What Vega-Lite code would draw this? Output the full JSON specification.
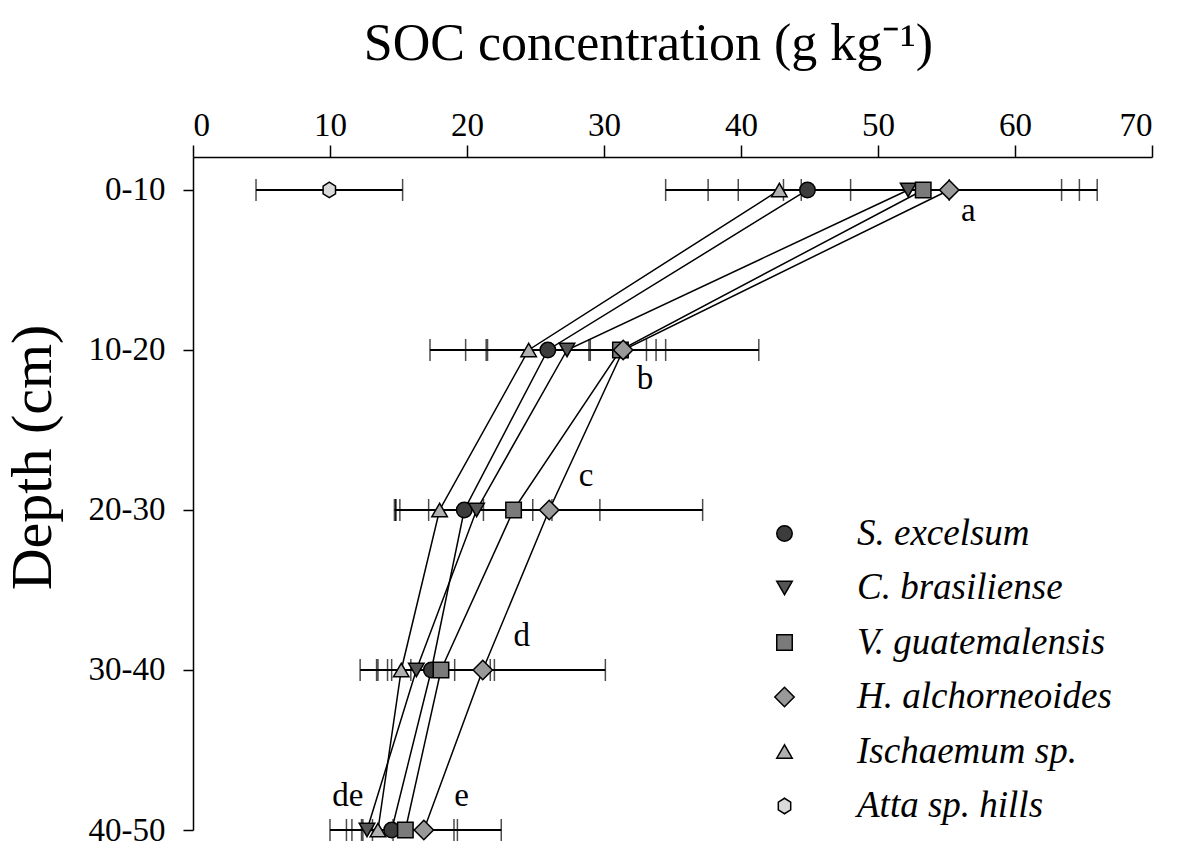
{
  "$schema": "https://vega.github.io/schema/vega-lite/v6.json",
  "autosize": {"type": "none"},
  "padding": {"left": 193, "top": 157, "right": 33, "bottom": 20},
  "width": 959,
  "height": 673,
  "background": "white",
  "config": {
    "view": {"stroke": null},
    "font": "Liberation Serif",
    "axis": {
      "labelFont": "Liberation Serif",
      "titleFont": "Liberation Serif",
      "labelColor": "black",
      "titleColor": "black",
      "domainColor": "black",
      "tickColor": "black",
      "domainWidth": 1.5,
      "tickWidth": 1.5,
      "grid": false,
      "titleFontWeight": "normal"
    }
  },
  "datasets": {
    "soc": [
      {"species": "S. excelsum", "depth": 5, "soc": 44.85, "lo": 34.5, "hi": 55.2},
      {"species": "S. excelsum", "depth": 15, "soc": 25.9, "lo": 17.3, "hi": 34.5},
      {"species": "S. excelsum", "depth": 25, "soc": 19.8, "lo": 14.8, "hi": 24.8},
      {"species": "S. excelsum", "depth": 35, "soc": 17.4, "lo": 13.4, "hi": 21.7},
      {"species": "S. excelsum", "depth": 45, "soc": 14.5, "lo": 10.0, "hi": 19.05},
      {"species": "C. brasiliense", "depth": 5, "soc": 52.2, "lo": 39.8, "hi": 64.7},
      {"species": "C. brasiliense", "depth": 15, "soc": 27.3, "lo": 21.5, "hi": 33.1},
      {"species": "C. brasiliense", "depth": 25, "soc": 20.7, "lo": 15.1, "hi": 26.2},
      {"species": "C. brasiliense", "depth": 35, "soc": 16.3, "lo": 13.5, "hi": 19.1},
      {"species": "C. brasiliense", "depth": 45, "soc": 12.7, "lo": 12.3, "hi": 13.1},
      {"species": "V. guatemalensis", "depth": 5, "soc": 53.3, "lo": 43.1, "hi": 63.4},
      {"species": "V. guatemalensis", "depth": 15, "soc": 31.2, "lo": 21.4, "hi": 41.3},
      {"species": "V. guatemalensis", "depth": 25, "soc": 23.4, "lo": 17.2, "hi": 29.7},
      {"species": "V. guatemalensis", "depth": 35, "soc": 18.1, "lo": 14.2, "hi": 22.0},
      {"species": "V. guatemalensis", "depth": 45, "soc": 15.5, "lo": 11.6, "hi": 19.3},
      {"species": "H. alchorneoides", "depth": 5, "soc": 55.2, "lo": 44.4, "hi": 66.0},
      {"species": "H. alchorneoides", "depth": 15, "soc": 31.4, "lo": 28.9, "hi": 33.8},
      {"species": "H. alchorneoides", "depth": 25, "soc": 26.0, "lo": 14.7, "hi": 37.2},
      {"species": "H. alchorneoides", "depth": 35, "soc": 21.15, "lo": 12.2, "hi": 30.1},
      {"species": "H. alchorneoides", "depth": 45, "soc": 16.85, "lo": 11.2, "hi": 22.5},
      {"species": "Ischaemum sp.", "depth": 5, "soc": 42.8, "lo": 37.6, "hi": 48.0},
      {"species": "Ischaemum sp.", "depth": 15, "soc": 24.5, "lo": 19.9, "hi": 29.0},
      {"species": "Ischaemum sp.", "depth": 25, "soc": 18.0, "lo": 14.8, "hi": 21.2},
      {"species": "Ischaemum sp.", "depth": 35, "soc": 15.2, "lo": 14.5, "hi": 15.9},
      {"species": "Ischaemum sp.", "depth": 45, "soc": 13.5, "lo": 12.4, "hi": 14.6},
      {"species": "Atta sp. hills", "depth": 5, "soc": 9.95, "lo": 4.6, "hi": 15.3}
    ],
    "letters": [
      {"label": "a", "soc": 56.6, "depth": 6.3},
      {"label": "b", "soc": 33.0, "depth": 16.8},
      {"label": "c", "soc": 28.7, "depth": 22.9},
      {"label": "d", "soc": 24.0, "depth": 32.9},
      {"label": "de", "soc": 11.3, "depth": 42.9},
      {"label": "e", "soc": 19.6, "depth": 42.9}
    ]
  },
  "data": {"name": "soc"},
  "encoding": {
    "y": {
      "field": "depth",
      "type": "quantitative",
      "scale": {"domain": [2.94, 45], "reverse": true, "nice": false, "zero": false},
      "axis": {
        "values": [5, 15, 25, 35, 45],
        "labelExpr": "(datum.value - 5) + '-' + (datum.value + 5)",
        "labelFontSize": 33,
        "labelPadding": 18,
        "tickSize": 10,
        "title": "Depth (cm)",
        "titleFontSize": 58,
        "titleX": -160,
        "titleY": 300,
        "titleBaseline": "middle"
      }
    }
  },
  "layer": [
    {
      "mark": {"type": "line", "color": "black", "strokeWidth": 1.5},
      "encoding": {
        "x": {
          "field": "soc",
          "type": "quantitative",
          "scale": {"domain": [0, 70], "nice": false},
          "axis": {
            "orient": "top",
            "values": [0, 10, 20, 30, 40, 50, 60, 70],
            "labelFontSize": 33,
            "labelPadding": 3,
            "tickSize": 12,
            "title": "SOC concentration (g kg⁻¹)",
            "titleFontSize": 52,
            "titleX": 455,
            "titleY": -98,
            "titleBaseline": "alphabetic"
          }
        },
        "detail": {"field": "species"},
        "order": {"field": "depth", "type": "quantitative"}
      }
    },
    {
      "mark": {"type": "rule", "color": "black", "strokeWidth": 2},
      "encoding": {
        "x": {"field": "lo", "type": "quantitative"},
        "x2": {"field": "hi"}
      }
    },
    {
      "mark": {"type": "tick", "orient": "vertical", "color": "black", "size": 22, "thickness": 1.5},
      "encoding": {"x": {"field": "lo", "type": "quantitative"}}
    },
    {
      "mark": {"type": "tick", "orient": "vertical", "color": "black", "size": 22, "thickness": 1.5},
      "encoding": {"x": {"field": "hi", "type": "quantitative"}}
    },
    {
      "mark": {"type": "point", "filled": true, "opacity": 1, "strokeWidth": 1.5, "size": 240},
      "encoding": {
        "x": {"field": "soc", "type": "quantitative"},
        "shape": {
          "field": "species",
          "type": "nominal",
          "scale": {
            "domain": ["S. excelsum", "C. brasiliense", "V. guatemalensis", "H. alchorneoides", "Ischaemum sp.", "Atta sp. hills"],
            "range": ["circle", "triangle-down", "square", "M0,-1.25L1.25,0L0,1.25L-1.25,0Z", "triangle-up", "M0,-1L0.8,-0.5L0.8,0.5L0,1L-0.8,0.5L-0.8,-0.5Z"]
          },
          "legend": {
            "title": null,
            "orient": "none",
            "legendX": 573,
            "legendY": 358,
            "labelFont": "Liberation Serif",
            "labelFontStyle": "italic",
            "labelFontSize": 37,
            "labelColor": "black",
            "labelLimit": 0,
            "labelOffset": 54,
            "rowPadding": 16.5,
            "symbolSize": 240,
            "symbolStrokeWidth": 1.5,
            "padding": 0
          }
        },
        "fill": {
          "field": "species",
          "type": "nominal",
          "scale": {
            "domain": ["S. excelsum", "C. brasiliense", "V. guatemalensis", "H. alchorneoides", "Ischaemum sp.", "Atta sp. hills"],
            "range": ["#3c3c3c", "#555555", "#7a7a7a", "#999999", "#b0b0b0", "#dadada"]
          }
        },
        "stroke": {
          "field": "species",
          "type": "nominal",
          "scale": {
            "domain": ["S. excelsum", "C. brasiliense", "V. guatemalensis", "H. alchorneoides", "Ischaemum sp.", "Atta sp. hills"],
            "range": ["black", "black", "black", "black", "black", "black"]
          }
        }
      }
    },
    {
      "data": {"name": "letters"},
      "mark": {"type": "text", "fontSize": 33, "font": "Liberation Serif", "color": "black", "align": "center", "baseline": "middle"},
      "encoding": {
        "x": {"field": "soc", "type": "quantitative"},
        "text": {"field": "label"}
      }
    }
  ]
}
